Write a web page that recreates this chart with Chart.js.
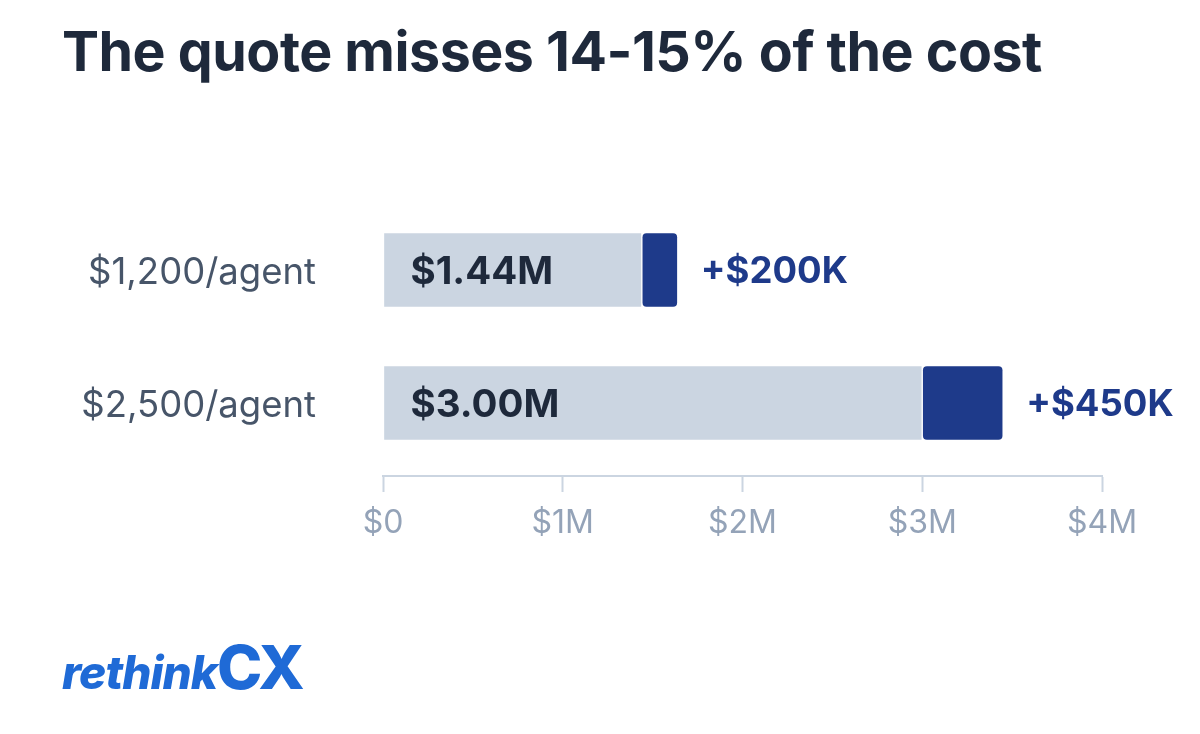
<!DOCTYPE html>
<html>
<head>
<meta charset="utf-8">
<script src="https://cdn.jsdelivr.net/npm/chart.js@4.4.1/dist/chart.umd.min.js"></script>
<style>
  html, body { margin: 0; padding: 0; background: #fff; }
  #wrap { position: relative; width: 1200px; height: 734px; overflow: hidden; }
  #chart { position: absolute; left: 0; top: 0; }
  h1 {
    position: absolute; left: 62px; top: 17px; margin: 0;
    font: 700 55.5px Inter, sans-serif; color: #1e293b; letter-spacing: -0.5px;
    white-space: nowrap;
  }
  #logo {
    position: absolute; left: 62px; top: 630px; color: #1f6ad6;
    font-family: Inter, sans-serif; font-weight: 800; white-space: nowrap;
  }
  #logo .r { font-style: italic; font-size: 46px; letter-spacing: -1px; }
  #logo .cx { font-size: 61px; letter-spacing: -3px; }
</style>
</head>
<body>
<div id="wrap">
  <canvas id="chart" width="1200" height="734"></canvas>
  <h1>The quote misses 14-15% of the cost</h1>
  <div id="logo"><span class="r">rethink</span><span class="cx">CX</span></div>
</div>
<script>
// --- data ---
const categories = ['$1,200/agent', '$2,500/agent'];
const quotedCost = [1440000, 3000000];
const missedCost = [200000, 450000];
const quotedLabels = ['$1.44M', '$3.00M'];
const missedLabels = ['+$200K', '+$450K'];
const xTickLabels = ['$0', '$1M', '$2M', '$3M', '$4M'];

const GREY = '#cbd5e1';
const NAVY = '#1e3a8a';

// pulls the category band up a little so the axis line sits lower than the bars
const nudgeY = {
    id: 'nudgeY',
    afterLayout(chart) {
        const y = chart.scales.y;
        y.bottom = chart.chartArea.bottom - 6.5;
        y.height = y.bottom - y.top;
        y.configure();
    }
};

// value labels inside the grey bars and after the navy ones
const barLabels = {
    id: 'barLabels',
    afterDatasetsDraw(chart) {
        const ctx = chart.ctx;
        ctx.save();
        ctx.textBaseline = 'middle';
        ctx.textAlign = 'left';
        ctx.font = '700 38.5px Inter, sans-serif';
        ctx.fillStyle = '#1e293b';
        chart.getDatasetMeta(0).data.forEach((bar, i) => {
            ctx.fillText(quotedLabels[i], bar.base + 27, bar.y + 2);
        });
        ctx.font = '700 36.5px Inter, sans-serif';
        ctx.fillStyle = NAVY;
        chart.getDatasetMeta(1).data.forEach((bar, i) => {
            ctx.fillText(missedLabels[i], bar.x + 23, bar.y + 2);
        });
        ctx.restore();
    }
};

new Chart(document.getElementById('chart'), {
    type: 'bar',
    data: {
        labels: categories,
        datasets: [
            {
                label: 'Quoted',
                data: quotedCost,
                backgroundColor: GREY,
                borderColor: '#ffffff',
                borderWidth: 1,
                borderSkipped: false,
                borderRadius: 5,
                barThickness: 75
            },
            {
                label: 'Missed',
                data: missedCost,
                backgroundColor: NAVY,
                borderColor: '#ffffff',
                borderWidth: 1,
                borderSkipped: false,
                borderRadius: 5,
                barThickness: 75
            }
        ]
    },
    options: {
        indexAxis: 'y',
        responsive: false,
        animation: false,
        layout: { padding: { top: 203.5, right: 98, left: 0, bottom: 0 } },
        plugins: { legend: { display: false }, tooltip: { enabled: false } },
        scales: {
            x: {
                stacked: true,
                min: 0,
                max: 4000000,
                afterFit: (s) => { s.height = 258; },
                border: { display: true, color: GREY, width: 2 },
                grid: { drawOnChartArea: false, drawTicks: true, tickLength: 16, tickWidth: 2, tickColor: GREY },
                ticks: {
                    stepSize: 1000000,
                    padding: 12,
                    color: '#94a3b8',
                    font: { family: 'Inter', size: 32 },
                    callback: (v, i) => xTickLabels[i]
                }
            },
            y: {
                stacked: true,
                afterFit: (s) => { s.width = 383; },
                border: { display: false },
                grid: { display: false, drawTicks: false },
                ticks: {
                    padding: 67,
                    labelOffset: 3,
                    color: '#475569',
                    font: { family: 'Inter', size: 36.5 }
                }
            }
        }
    },
    plugins: [nudgeY, barLabels]
});
</script>
</body>
</html>
